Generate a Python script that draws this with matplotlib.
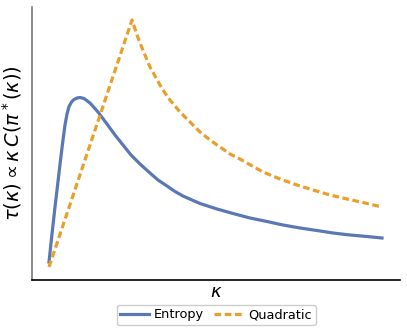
import numpy as np
import matplotlib.pyplot as plt

# values (arbitrary units)
kappa_ent = [17, 19, 21, 23, 25, 27, 29, 31, 33, 35, 37, 39.5, 42, 45, 48, 52, 58, 66, 75, 83, 91, 99,
             108, 118, 126, 135, 143, 151, 160, 168, 185, 201, 218, 235, 251, 268, 285, 301, 318, 335, 350]
tau_ent = [18, 37, 55, 73, 90, 107, 124, 140, 155, 166, 173.5, 178, 180.5, 182, 182.5, 181.5, 177, 168,
           156, 145, 135, 125, 116, 107, 100, 94, 88.5, 84, 80, 76.5, 71, 66.5, 62, 58.5, 55, 52, 49.5,
           47, 45, 43.5, 42]

kappa_quad = [17, 100, 104, 108, 113, 118, 123, 128, 133, 138, 143, 148, 158, 168, 178, 188, 198, 206,
              215, 231, 248, 265, 281, 298, 315, 333, 350]
tau_quad = [13, 260, 248, 237, 225, 213, 204, 195, 187, 180, 174, 168, 158, 148, 140, 133, 126, 122,
            117, 108, 101, 95, 90, 85, 81, 77, 73]

fig = plt.figure(figsize=(4.07, 3.33), dpi=100)
ax = fig.add_axes([32/407, 53/333, 368/407, 273/333])

ax.plot(kappa_ent, tau_ent, color='#5a78b4', lw=2.3, label='Entropy')
ax.plot(kappa_quad, tau_quad, color='#e8a02a', lw=2.3, ls=(0, (2.1, 1.1)), label='Quadratic')

ax.set_xlim(0, 368)
ax.set_ylim(0, 273)
ax.set_xticks([])
ax.set_yticks([])
ax.spines['top'].set_visible(False)
ax.spines['right'].set_visible(False)
ax.spines['left'].set_color('#777777')
ax.spines['left'].set_linewidth(1.2)
ax.spines['bottom'].set_linewidth(1.2)

ax.set_xlabel(r'$\kappa$', fontsize=13, labelpad=2)
ax.set_ylabel(r'$\tau(\kappa) \propto \kappa\, C(\pi^*(\kappa))$', fontsize=14, labelpad=6)

ax.legend(loc='upper center', bbox_to_anchor=(0.5, -0.09), ncol=2, fontsize=9.3,
          handlelength=2.2, columnspacing=0.8, handletextpad=0.4, borderaxespad=0,
          borderpad=0.3, fancybox=True, framealpha=1)

fig.savefig('out.png', dpi=100)
